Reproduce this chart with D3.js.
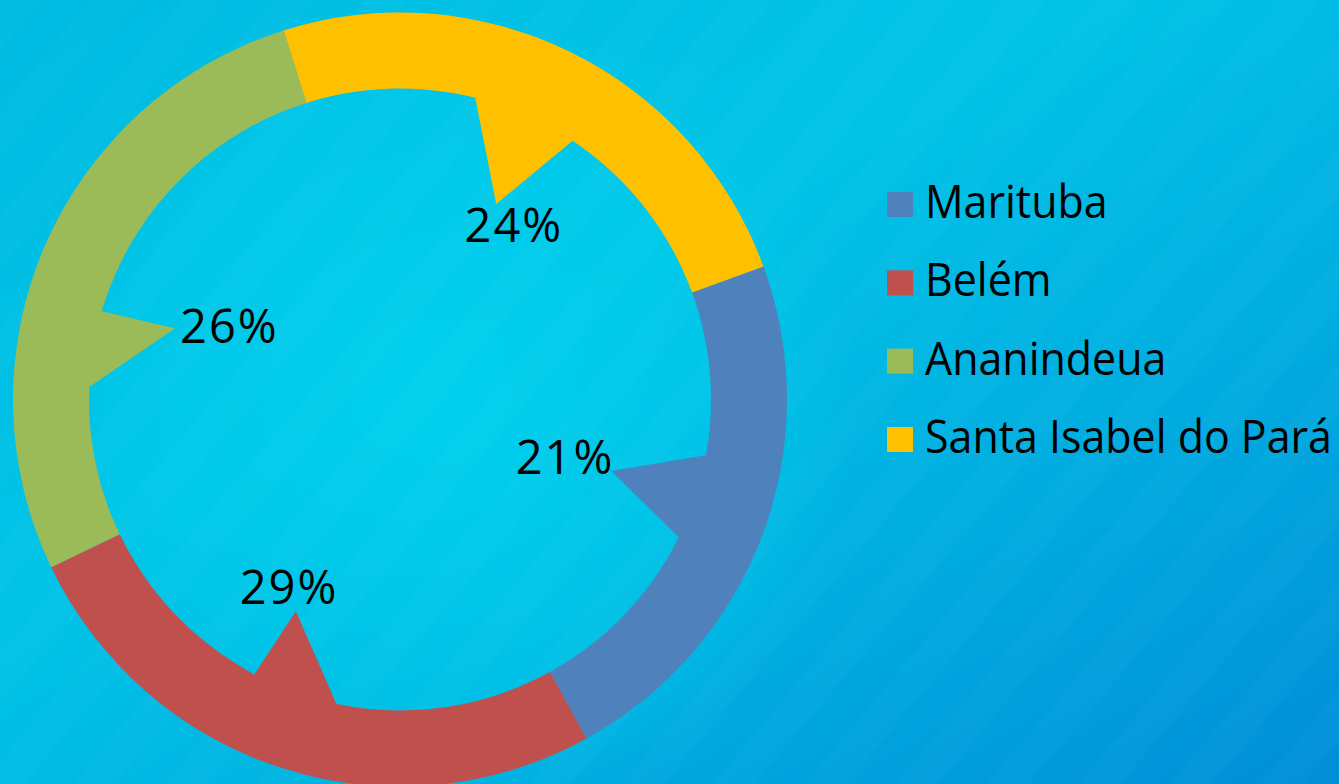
<!DOCTYPE html>
<html>
<head>
<meta charset="utf-8">
<script src="https://cdnjs.cloudflare.com/ajax/libs/d3/7.8.5/d3.min.js"></script>
<style>
  html, body { margin: 0; padding: 0; background: #00BEE4; }
  svg { display: block; }
  text { font-family: "Open Sans", "Noto Sans", sans-serif; }
</style>
</head>
<body>
<svg id="chart" width="1339" height="784"></svg>
<script>
// ---- data ----
const categories = ["Marituba", "Belém", "Ananindeua", "Santa Isabel do Pará"];
// share of the ring each slice occupies, as drawn (%)
const sliceShares = [22.6, 25.9, 27.3, 24.3];
// the percentage labels printed in the callouts
const percentLabels = ["21%", "29%", "26%", "24%"];
const colors = ["#4F81BD", "#C0504D", "#9BBB59", "#FFC000"];

// ---- layout ----
const W = 1339, H = 784;
const cx = 400, cy = 399.5;
const rOuter = 387, rInner = 311;
const firstSliceAngle = 69.9; // degrees clockwise from 12 o'clock

// callout geometry per slice (degrees / px from centre): where the wedge leaves
// the inner edge of the ring, where its tip ends, and where the label centre sits
const callouts = [
  { a1: 100.3, a2: 116.3, tipA: 108.7, tipR: 223, labelA: 98.8,  labelR: 167, baseline: 474 },
  { a1: 191.8, a2: 207.9, tipA: 206.2, tipR: 236, labelA: 210.6, labelR: 218, baseline: 604 },
  { a1: 272.3, a2: 286.5, tipA: 287.6, tipR: 236, labelA: 286.6, labelR: 178, baseline: 343 },
  { a1: 14.0,  a2: 33.7,  tipA: 26.2,  tipR: 218, labelA: 33.2,  labelR: 208, baseline: 241.5 }
];

const rad = d => d * Math.PI / 180;
const polar = (a, r) => [cx + r * Math.sin(rad(a)), cy - r * Math.cos(rad(a))];

const svg = d3.select("#chart");
const defs = svg.append("defs");

// background gradient
const lg = defs.append("linearGradient").attr("id", "bg")
  .attr("x1", "0").attr("y1", "0").attr("x2", "1").attr("y2", "1");
[[0, "#00BBE2"], [0.40, "#00C4E7"], [0.70, "#00ACE0"], [1, "#008ED8"]]
  .forEach(([o, c]) => lg.append("stop").attr("offset", o).attr("stop-color", c));

const rg = defs.append("radialGradient").attr("id", "glow")
  .attr("gradientUnits", "userSpaceOnUse")
  .attr("cx", cx + 40).attr("cy", cy).attr("r", 420);
rg.append("stop").attr("offset", 0).attr("stop-color", "#00D2EE").attr("stop-opacity", 0.9);
rg.append("stop").attr("offset", 0.75).attr("stop-color", "#00CCEB").attr("stop-opacity", 0.5);
rg.append("stop").attr("offset", 1).attr("stop-color", "#00C6E8").attr("stop-opacity", 0);

const pat = defs.append("pattern").attr("id", "stripes")
  .attr("patternUnits", "userSpaceOnUse").attr("width", 70).attr("height", 70)
  .attr("patternTransform", "rotate(40)");
pat.append("rect").attr("width", 32).attr("height", 70).attr("fill", "#ffffff").attr("opacity", 0.018);

svg.append("rect").attr("width", W).attr("height", H).attr("fill", "url(#bg)");
svg.append("rect").attr("width", W).attr("height", H).attr("fill", "url(#glow)");
svg.append("rect").attr("width", W).attr("height", H).attr("fill", "url(#stripes)");

// ring
const pie = d3.pie().sort(null)
  .startAngle(rad(firstSliceAngle))
  .endAngle(rad(firstSliceAngle) + 2 * Math.PI);
const arcs = pie(sliceShares);
const arc = d3.arc().innerRadius(rInner).outerRadius(rOuter);

const g = svg.append("g");
g.selectAll("path.slice").data(arcs).join("path")
  .attr("class", "slice")
  .attr("transform", `translate(${cx},${cy})`)
  .attr("d", arc)
  .attr("fill", (d, i) => colors[i]);

// callout wedges
g.selectAll("path.wedge").data(arcs).join("path")
  .attr("class", "wedge")
  .attr("fill", (d, i) => colors[i])
  .attr("d", (d, i) => {
    const c = callouts[i];
    const tip = polar(c.tipA, c.tipR);
    const b1 = polar(c.a1, rInner), b2 = polar(c.a2, rInner);
    const ext = p => [tip[0] + (p[0] - tip[0]) * 1.25, tip[1] + (p[1] - tip[1]) * 1.25];
    return d3.line()([ext(b1), tip, ext(b2)]) + "Z";
  });

// labels
g.selectAll("text.pct").data(arcs).join("text")
  .attr("class", "pct")
  .attr("x", (d, i) => polar(callouts[i].labelA, callouts[i].labelR)[0])
  .attr("y", (d, i) => callouts[i].baseline)
  .attr("text-anchor", "middle")
  .attr("font-size", 47)
  .attr("letter-spacing", 2)
  .attr("fill", "#000")
  .text((d, i) => percentLabels[i]);

// legend
const legend = svg.append("g").attr("transform", "translate(887,0)");
const rowY = d3.scalePoint().domain(categories).range([218, 453]);
const item = legend.selectAll("g").data(categories).join("g")
  .attr("transform", d => `translate(0,${rowY(d)})`);
item.append("rect").attr("x", 0).attr("y", -26).attr("width", 26).attr("height", 25)
  .attr("fill", (d, i) => colors[i]);
const legText = item.append("text")
  .attr("font-size", 45).attr("fill", "#000")
  .text(d => d);
// narrow the glyphs so the longest entry spans the same width as in the reference
const longest = d3.max(legText.nodes(), n => n.getComputedTextLength());
const maxWidth = 407;
const sx = Math.min(1, maxWidth / longest);
legText.attr("transform", `translate(38,0) scale(${sx},1)`);
</script>
</body>
</html>
